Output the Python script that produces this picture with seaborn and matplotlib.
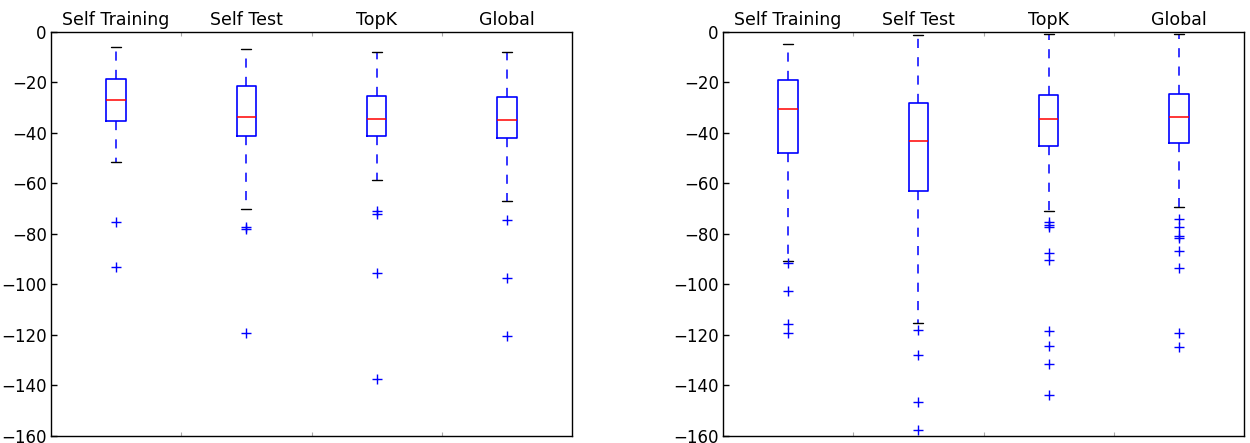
import matplotlib
matplotlib.use("Agg")
import matplotlib.pyplot as plt
import seaborn as sns

# ---- data ----
labels = ["Self Training", "Self Test", "TopK", "Global"]

# left panel
whishi_a = [-6.1, -6.6, -7.9, -7.9]
q3_a = [-18.8, -21.3, -25.4, -25.8]
med_a = [-27.0, -33.7, -34.4, -34.8]
q1_a = [-35.3, -41.0, -41.2, -42.0]
whislo_a = [-51.5, -70.1, -58.6, -66.8]
fliers_a = [
    [-75.1, -93.0],
    [-77.4, -77.9, -119.2],
    [-70.8, -72.2, -95.4, -137.3],
    [-74.5, -97.5, -120.2],
]

# right panel
whishi_b = [-4.6, -1.2, -0.8, -0.8]
q3_b = [-19.0, -28.1, -24.9, -24.6]
med_b = [-30.6, -43.1, -34.4, -33.5]
q1_b = [-47.9, -63.1, -45.0, -44.0]
whislo_b = [-90.6, -115.1, -70.8, -69.2]
fliers_b = [
    [-91.6, -102.6, -115.7, -119.3],
    [-118.2, -127.8, -146.4, -157.8],
    [-75.4, -76.3, -77.4, -87.7, -90.4, -118.5, -124.2, -131.6, -143.6],
    [-74.2, -77.1, -80.8, -81.7, -86.9, -93.3, -119.2, -124.8],
]

y_ticks = [0, -20, -40, -60, -80, -100, -120, -140, -160]

sns.set_style("white")
plt.rcParams["font.family"] = ["DejaVu Sans"]
plt.rcParams["font.size"] = 12
plt.rcParams["text.color"] = "black"
plt.rcParams["xtick.color"] = "black"
plt.rcParams["ytick.color"] = "black"
plt.rcParams["axes.labelcolor"] = "black"


def build_stats(lo, q1, med, q3, hi, fl):
    stats = []
    for i in range(len(labels)):
        stats.append(dict(label=labels[i], whislo=lo[i], q1=q1[i], med=med[i],
                          q3=q3[i], whishi=hi[i], fliers=fl[i]))
    return stats


fig = plt.figure(figsize=(12.5, 4.43), dpi=100)
ax1 = fig.add_axes([0.0408, 0.0158, 0.4168, 0.912])
ax2 = fig.add_axes([0.5784, 0.0158, 0.4168, 0.912])

panels = [
    (ax1, build_stats(whislo_a, q1_a, med_a, q3_a, whishi_a, fliers_a)),
    (ax2, build_stats(whislo_b, q1_b, med_b, q3_b, whishi_b, fliers_b)),
]

for ax, stats in panels:
    ax.bxp(stats, positions=[1, 2, 3, 4], widths=0.15, showfliers=True,
           boxprops=dict(color="#0000ff", linewidth=1.2),
           medianprops=dict(color="#ff0000", linewidth=1.1),
           whiskerprops=dict(color="#0000ff", linewidth=1.1, linestyle=(0, (6, 6))),
           capprops=dict(color="black", linewidth=1.0),
           flierprops=dict(marker="+", markeredgecolor="#0000ff", markersize=6.5,
                           markeredgewidth=1.0, linestyle="none"))
    ax.set_xlim(0.5, 4.5)
    ax.set_ylim(-160, 0)
    ax.set_yticks(y_ticks)
    ax.set_yticklabels([str(t) if t == 0 else "\u2212" + str(-t) for t in y_ticks])
    ax.tick_params(axis="y", direction="in", length=4, width=1, left=True,
                   right=False, labelsize=12, pad=3, color="black",
                   labelcolor="black")
    # major ticks at box boundaries (no labels), labels as minor ticks on top
    ax.set_xticks([1.5, 2.5, 3.5])
    ax.set_xticklabels([])
    ax.set_xticks([1, 2, 3, 4], minor=True)
    ax.set_xticklabels(labels, minor=True)
    ax.tick_params(axis="x", which="major", direction="in", length=3, width=0.8,
                   top=True, bottom=True, labeltop=False, labelbottom=False,
                   color="#aaaaaa")
    ax.tick_params(axis="x", which="minor", length=0, top=True, bottom=False,
                   labeltop=True, labelbottom=False, labelsize=12.5, pad=2,
                   labelcolor="black")
    for sp in ax.spines.values():
        sp.set_visible(True)
        sp.set_color("black")
        sp.set_linewidth(1.0)
    ax.grid(False)

fig.savefig("out.png", dpi=100)
